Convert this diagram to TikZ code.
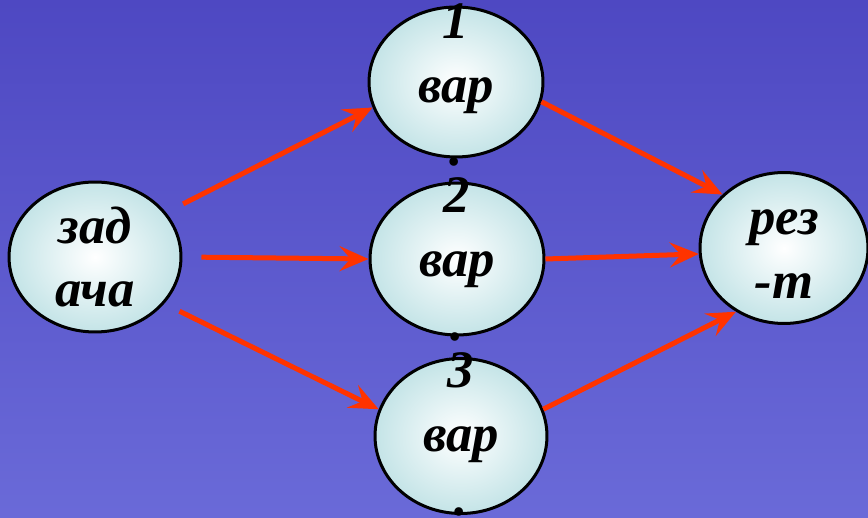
\documentclass[tikz,border=0pt]{standalone}
\usepackage{fontspec}
\setmainfont{Liberation Serif}
\usetikzlibrary{arrows.meta,shapes.geometric}
\definecolor{fonA}{RGB}{78,72,194}
\definecolor{fonB}{RGB}{106,106,216}
\definecolor{rojo}{RGB}{255,51,0}
\definecolor{celeste}{RGB}{196,228,231}
\tikzset{%
    fon/.style={top color=fonA, bottom color=fonB},
    ovl/.style={ellipse, draw=black, line width=0.06cm, shading=radial, inner color=white, outer color=celeste, inner sep=0pt},
    txt/.style={align=center, inner sep=0pt, font=\fontsize{30}{36.4}\selectfont\bfseries\itshape},
    fle/.style={draw=rojo, line width=0.1cm, -{Stealth[length=0.58cm, width=0.5cm, inset=0.22cm]}},
}
\begin{document}
\begin{tikzpicture}[x=0.02cm,y=0.02cm]
    \useasboundingbox (0,0) rectangle (868,517);
    \fill [fon](0,0) rectangle (868,517);
    \node [ovl,minimum width=3.44cm,minimum height=3cm](zad) at (95,260) {};
    \node [ovl,minimum width=3.48cm,minimum height=3cm](v1) at (456,435) {};
    \node [ovl,minimum width=3.48cm,minimum height=3.04cm](v2) at (457,258) {};
    \node [ovl,minimum width=3.44cm,minimum height=3.1cm](v3) at (461,81) {};
    \node [ovl,minimum width=3.36cm,minimum height=3.02cm](rez) at (784,269) {};
    \node [txt](tz) at (zad) {зад\\ача};
    \node [txt,yshift=-0.06cm](t1) at (v1) {1\\вар\\.};
    \node [txt](t2) at (v2) {2\\вар\\.};
    \node [txt,yshift=0.04cm](t3) at (v3) {3\\вар\\.};
    \node [txt,yshift=-0.12cm](tr) at (rez) {рез\\-т};
    \draw [fle,shorten <=0.38cm](zad.32)--(v1.197);
    \draw [fle,shorten <=0.38cm](zad.east)--(v2.west);
    \draw [fle,shorten <=0.34cm](zad.-34)--(v3.162);
    \draw [fle](v1.-13)--(rez.139);
    \draw [fle](v2.east)--(rez.184);
    \draw [fle](v3.18)--(rez.233);
\end{tikzpicture}
\end{document}
